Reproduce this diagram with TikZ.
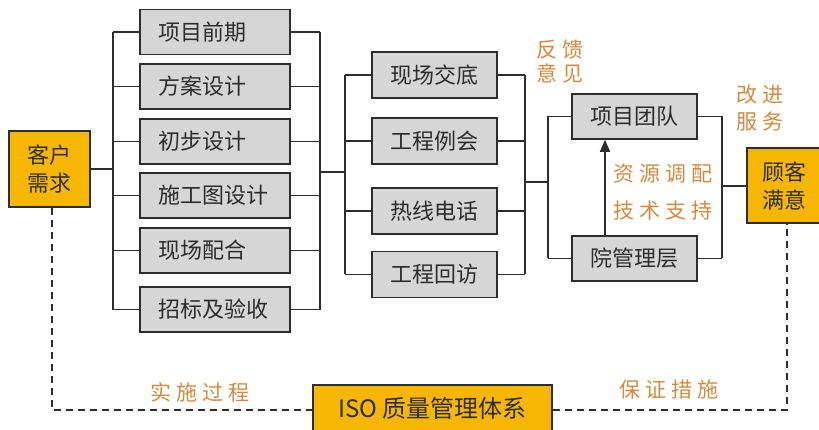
\documentclass[tikz,border=0pt]{standalone}
\usepackage{fontspec}
\setmainfont{Noto Sans CJK SC}
\usetikzlibrary{arrows.meta}
\definecolor{boxgray}{RGB}{214,214,214}
\definecolor{boxgold}{RGB}{247,183,0}
\definecolor{lineclr}{RGB}{45,45,45}
\definecolor{txtclr}{RGB}{45,45,45}
\definecolor{lblclr}{RGB}{212,138,62}
\newcommand{\lgap}{\hspace{5pt}}
\begin{document}
\begin{tikzpicture}[x=1pt,y=-1pt,
  graybox/.style={draw=lineclr, line width=1.6pt, fill=boxgray, text=txtclr,
    font=\fontsize{22}{28}\selectfont, minimum height=45pt, inner sep=0pt},
  leftbox/.style={graybox, text width=114pt, align=left, inner xsep=18pt},
  midbox/.style={graybox, minimum width=125pt},
  goldbox/.style={draw=lineclr, line width=1.6pt, fill=boxgold, text=txtclr,
    font=\fontsize{22}{28}\selectfont, align=center, inner sep=0pt},
  lbl/.style={text=lblclr, font=\fontsize{21}{26}\selectfont, align=center, inner sep=0pt},
  conn/.style={draw=lineclr, line width=1.6pt},
  dashconn/.style={draw=lineclr, line width=1.5pt, dash pattern=on 7pt off 5pt}]
\useasboundingbox (0,0) rectangle (819,430);
\fill[white] (0,0) rectangle (819,430);

% left customer box
\node[goldbox, minimum width=81pt, minimum height=76pt] (kh) at (49.5,169) {客户\\需求};

% column 1
\node[leftbox] (a1) at (215,32) {项目前期};
\node[leftbox] (a2) at (215,86.5) {方案设计};
\node[leftbox] (a3) at (215,141.5) {初步设计};
\node[leftbox] (a4) at (215,195.5) {施工图设计};
\node[leftbox] (a5) at (215,250.5) {现场配合};
\node[leftbox] (a6) at (215,309.5) {招标及验收};

% column 2
\node[midbox, minimum height=46pt] (b1) at (434.5,75) {现场交底};
\node[midbox, minimum height=46pt] (b2) at (434.5,141) {工程例会};
\node[midbox, minimum height=46pt] (b3) at (434.5,211) {热线电话};
\node[midbox, minimum height=46pt] (b4) at (434.5,274.5) {工程回访};

% column 3
\node[midbox] (c1) at (634.5,116.5) {项目团队};
\node[midbox] (c2) at (634.5,258.5) {院管理层};

% right box
\node[goldbox, minimum width=75pt, minimum height=75pt] (gk) at (784.5,185.5) {顾客\\满意};

% ISO box
\node[goldbox, minimum width=239pt, minimum height=47pt, font=\fontsize{24}{28}\selectfont] (iso) at (432.5,408.5) {ISO 质量管理体系};

% bus coordinates
\coordinate (lb1) at (113,0);
\coordinate (rb1) at (320,172);
\coordinate (lb2) at (345,172);
\coordinate (rb2) at (525,182);
\coordinate (lb3) at (548,182);
\coordinate (rb3) at (722,186);

% column 1 connectors
\draw[conn] (a1.west -| lb1) -- (a6.west -| lb1);
\foreach \i in {1,...,6} {\draw[conn] (a\i.west) -- (a\i.west -| lb1);}
\draw[conn] (kh.east) -- (kh.east -| lb1);
\draw[conn] (a1.east -| rb1) -- (a6.east -| rb1);
\foreach \i in {1,...,6} {\draw[conn] (a\i.east) -- (a\i.east -| rb1);}
\draw[conn] (rb1) -- (lb2);

% column 2 connectors
\draw[conn] (b1.west -| lb2) -- (b4.west -| lb2);
\foreach \i in {1,...,4} {\draw[conn] (b\i.west) -- (b\i.west -| lb2);}
\draw[conn] (b1.east -| rb2) -- (b4.east -| rb2);
\foreach \i in {1,...,4} {\draw[conn] (b\i.east) -- (b\i.east -| rb2);}
\draw[conn] (rb2) -- (lb3);

% column 3 connectors
\draw[conn] (c1.west -| lb3) -- (c2.west -| lb3);
\foreach \i in {1,2} {\draw[conn] (c\i.west) -- (c\i.west -| lb3);}
\draw[conn] (c1.east -| rb3) -- (c2.east -| rb3);
\foreach \i in {1,2} {\draw[conn] (c\i.east) -- (c\i.east -| rb3);}
\draw[conn] (rb3) -- (gk.west |- rb3);

% support arrow
\draw[conn, -{Triangle[width=10pt,length=12pt]}] ([xshift=-29.5pt]c2.north) -- ([xshift=-29.5pt]c1.south);

% dashed loop
\draw[dashconn] ([xshift=2.5pt]kh.south) |- ([yshift=-1.5pt]iso.west);
\draw[dashconn] ([yshift=-1.5pt]iso.east) -| ([xshift=2.5pt]gk.south);

% labels
\node[lbl, font=\fontsize{21}{24}\selectfont] (fk) at (560,62) {反\lgap 馈\\意\lgap 见};
\node[lbl, font=\fontsize{21}{27}\selectfont] (gj) at (760,108) {改\lgap 进\\服\lgap 务};
\node[lbl] (zy) at (663,174) {资\lgap 源\lgap 调\lgap 配};
\node[lbl] (js) at (663,211) {技\lgap 术\lgap 支\lgap 持};
\node[lbl] (ss) at (200,392) {实\lgap 施\lgap 过\lgap 程};
\node[lbl] (bz) at (669,390) {保\lgap 证\lgap 措\lgap 施};
\end{tikzpicture}
\end{document}
